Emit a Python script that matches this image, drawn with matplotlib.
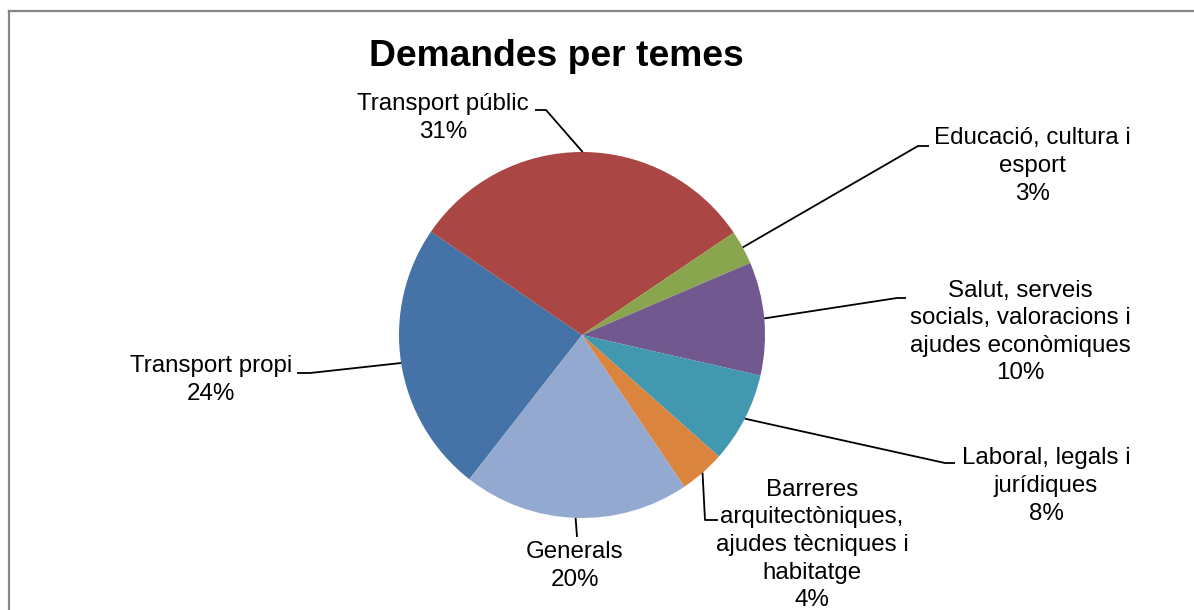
import numpy as np
from matplotlib import pyplot as plt
from matplotlib.lines import Line2D

plt.rcParams['font.family'] = ['Liberation Sans', 'DejaVu Sans']

# dades (percentatges)
temes = ["Transport propi", "Transport públic", "Educació, cultura i\nesport",
         "Salut, serveis\nsocials, valoracions i\najudes econòmiques",
         "Laboral, legals i\njurídiques",
         "Barreres\narquitectòniques,\najudes tècniques i\nhabitatge",
         "Generals"]
valors = [24, 31, 3, 10, 8, 4, 20]
colors = ["#4572A7", "#AA4643", "#89A54E", "#71588F", "#4198AF", "#DB843D", "#93A9CF"]

W, H = 1194, 610

def px(x, y):
  # pixel coords (y from top) -> axes coords
  return x, H - y

# label centre, elbow start, elbow end (pixels from top)
label_pos = [(211, 380), (443, 118), (1032, 166), (1020, 332), (1046, 486), (812, 545), (575, 566)]
elbows = [[(310, 373), (297, 373)],
          [(546, 110), (535, 110)],
          [(918, 146), (929, 146)],
          [(897, 298), (906, 298)],
          [(945, 463), (955, 463)],
          [(705, 520), (718, 520)],
          [(577, 537)]]

fig = plt.figure(figsize=(W / 100, H / 100), dpi=100)
ax = fig.add_axes([0, 0, 1, 1])

wedges, _ = ax.pie(valors, colors=colors, startangle=232, counterclock=False,
                   center=px(582, 335), radius=183, frame=True,
                   wedgeprops=dict(linewidth=0))
ax.set_xlim(0, W)
ax.set_ylim(0, H)
ax.axis('off')

for i, w in enumerate(wedges):
  mid = np.deg2rad((w.theta1 + w.theta2) / 2)
  ax0 = w.center[0] + w.r * np.cos(mid)
  ay0 = w.center[1] + w.r * np.sin(mid)
  xs = [ax0] + [px(*p)[0] for p in elbows[i]]
  ys = [ay0] + [px(*p)[1] for p in elbows[i]]
  ax.plot(xs, ys, color="black", linewidth=1.3, solid_capstyle='butt')
  lx, ly = px(*label_pos[i])
  ax.text(lx, ly, f"{temes[i]}\n{valors[i]}%", ha='center', va='center',
          multialignment='center', fontsize=17.4, linespacing=1.33, color="black")

ax.text(*px(556, 56), "Demandes per temes", ha='center', va='center',
        fontsize=26.8, fontweight='bold')

# vora del gràfic (només visible a dalt i a l'esquerra)
fig.add_artist(Line2D([8.5 / W, 1.0], [1 - 10.5 / H, 1 - 10.5 / H], color="#868686", linewidth=1.6))
fig.add_artist(Line2D([8.5 / W, 8.5 / W], [0.0, 1 - 10.5 / H], color="#868686", linewidth=1.6))

plt.savefig("out.png", dpi=100)
